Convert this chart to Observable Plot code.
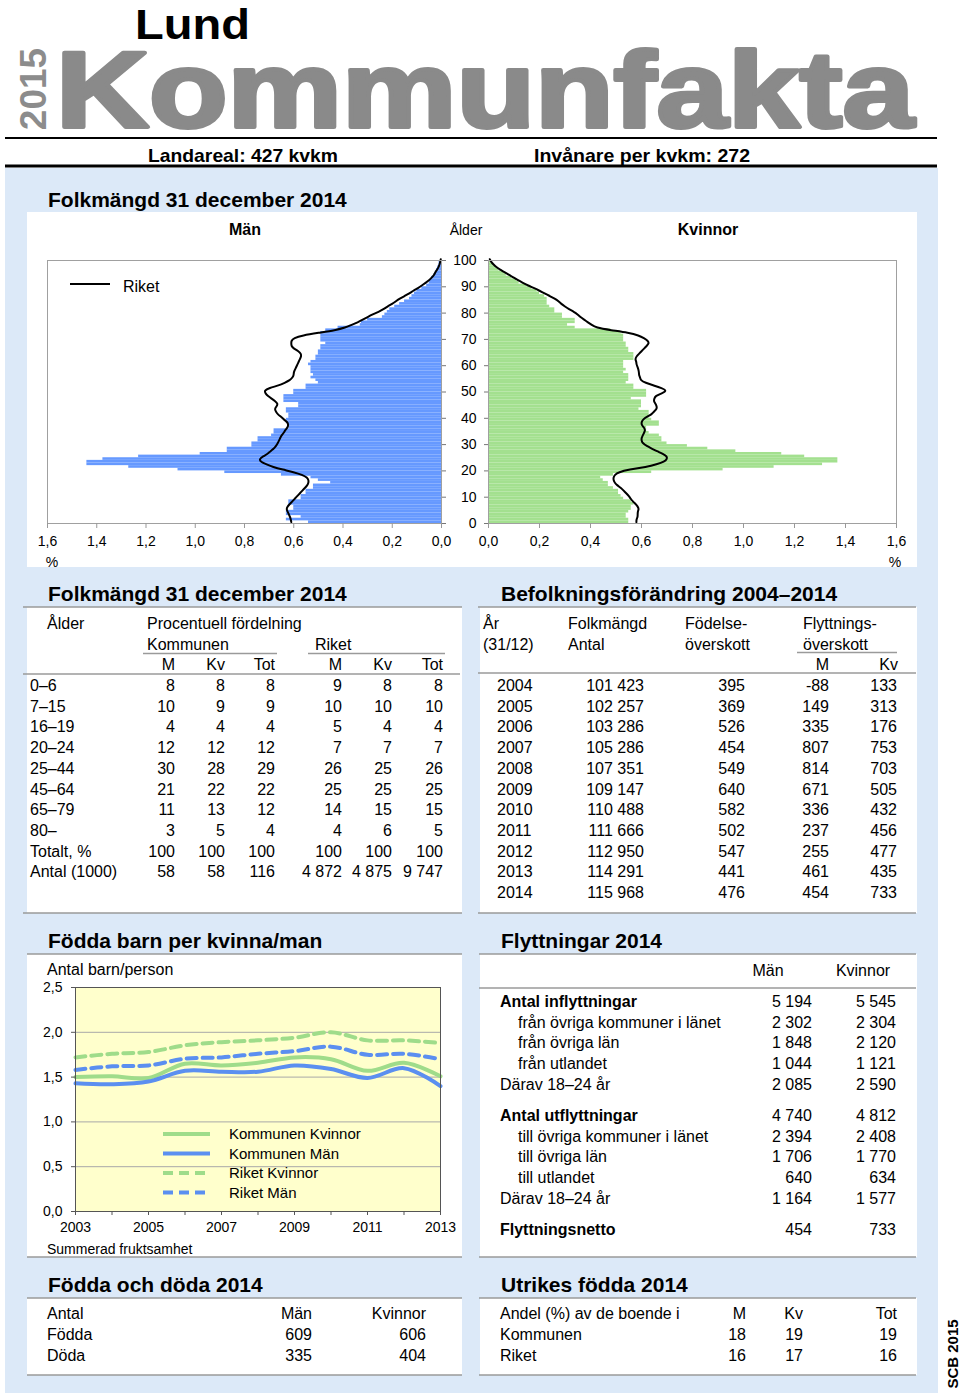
<!DOCTYPE html>
<html><head><meta charset="utf-8">
<script src="https://cdn.jsdelivr.net/npm/d3@7"></script>
<script src="https://cdn.jsdelivr.net/npm/@observablehq/plot@0.6"></script>
<style>
body{margin:0;background:#fff;}
#page{position:relative;width:960px;height:1396px;overflow:hidden;font-family:"Liberation Sans",Arial,sans-serif;}
svg.layer{position:absolute;left:0;top:0;}
.chart{position:absolute;}
</style></head><body><div id="page"></div>
<script>
// ---------- DATA ----------
const pctTicks = [0, 0.2, 0.4, 0.6, 0.8, 1.0, 1.2, 1.4, 1.6];
const ageTicks = [0, 10, 20, 30, 40, 50, 60, 70, 80, 90, 100];
// share (%) of population by single year of age 0..100
const menLund = [0.54,0.63,0.57,0.63,0.63,0.60,0.60,0.62,0.62,0.57,
 0.57,0.55,0.55,0.52,0.52,0.45,0.50,0.53,0.65,0.88,
 1.07,1.27,1.44,1.44,1.375,1.23,0.98,0.87,0.87,0.77,
 0.77,0.745,0.745,0.69,0.68,0.68,0.62,0.62,0.63,0.63,
 0.62,0.62,0.63,0.63,0.58,0.58,0.64,0.64,0.64,0.60,
 0.60,0.55,0.55,0.50,0.51,0.53,0.52,0.53,0.53,0.53,
 0.54,0.53,0.51,0.51,0.50,0.50,0.49,0.49,0.47,0.49,
 0.49,0.49,0.49,0.47,0.42,0.33,0.325,0.30,0.24,0.23,
 0.22,0.21,0.19,0.17,0.15,0.13,0.12,0.11,0.10,0.08,
 0.06,0.05,0.045,0.04,0.03,0.025,0.02,0.015,0.01,0.01,0.005];
const menRiket = [0.61,0.612,0.615,0.62,0.625,0.63,0.625,0.615,0.605,0.595,
 0.585,0.575,0.565,0.555,0.545,0.54,0.54,0.545,0.565,0.60,
 0.645,0.685,0.71,0.735,0.74,0.725,0.705,0.695,0.68,0.672,
 0.665,0.66,0.655,0.65,0.64,0.635,0.625,0.622,0.625,0.64,
 0.65,0.665,0.672,0.678,0.67,0.664,0.675,0.69,0.705,0.715,
 0.72,0.70,0.66,0.637,0.615,0.605,0.60,0.60,0.595,0.59,
 0.585,0.58,0.575,0.57,0.57,0.58,0.60,0.61,0.61,0.61,
 0.60,0.565,0.50,0.43,0.39,0.365,0.34,0.32,0.30,0.28,
 0.255,0.235,0.22,0.20,0.185,0.17,0.15,0.13,0.115,0.095,
 0.08,0.065,0.05,0.04,0.03,0.025,0.018,0.012,0.008,0.005,0.003];
const womenLund = [0.55,0.55,0.54,0.54,0.55,0.56,0.56,0.57,0.56,0.53,
 0.52,0.51,0.51,0.49,0.47,0.47,0.45,0.44,0.49,0.64,
 0.92,1.12,1.31,1.37,1.37,1.24,1.15,0.97,0.86,0.78,
 0.70,0.68,0.68,0.67,0.63,0.62,0.62,0.67,0.67,0.64,
 0.63,0.63,0.63,0.59,0.60,0.60,0.60,0.56,0.62,0.62,
 0.62,0.57,0.57,0.54,0.55,0.55,0.55,0.53,0.54,0.53,
 0.53,0.53,0.57,0.57,0.57,0.55,0.55,0.54,0.54,0.53,
 0.53,0.53,0.52,0.48,0.34,0.31,0.34,0.34,0.29,0.29,
 0.26,0.26,0.24,0.23,0.23,0.23,0.22,0.20,0.19,0.17,
 0.15,0.12,0.11,0.09,0.07,0.06,0.04,0.03,0.02,0.015,0.01];
const womenRiket = [0.58,0.58,0.585,0.585,0.585,0.59,0.585,0.576,0.565,0.557,
 0.55,0.54,0.53,0.52,0.505,0.495,0.49,0.49,0.495,0.51,
 0.55,0.62,0.66,0.69,0.70,0.70,0.685,0.66,0.64,0.62,
 0.605,0.60,0.60,0.605,0.61,0.615,0.61,0.60,0.60,0.605,
 0.62,0.64,0.648,0.66,0.66,0.655,0.648,0.65,0.655,0.68,
 0.70,0.68,0.648,0.615,0.596,0.595,0.59,0.59,0.588,0.585,
 0.58,0.58,0.575,0.58,0.59,0.60,0.61,0.62,0.63,0.625,
 0.61,0.59,0.55,0.48,0.42,0.405,0.39,0.375,0.36,0.35,
 0.335,0.315,0.30,0.285,0.275,0.26,0.24,0.22,0.20,0.18,
 0.155,0.135,0.115,0.10,0.08,0.065,0.045,0.03,0.02,0.01,0.005];

// Summerad fruktsamhet
const fYears = [2003,2004,2005,2006,2007,2008,2009,2010,2011,2012,2013];
const fTicksY = [0, 0.5, 1.0, 1.5, 2.0, 2.5];
const kommunKvinnor = [1.50,1.51,1.49,1.65,1.63,1.66,1.72,1.70,1.57,1.66,1.51];
const kommunMan     = [1.43,1.42,1.45,1.57,1.56,1.56,1.63,1.59,1.49,1.60,1.40];
const riketKvinnor  = [1.72,1.76,1.78,1.855,1.89,1.91,1.94,2.00,1.91,1.91,1.88];
const riketMan      = [1.58,1.62,1.63,1.705,1.72,1.76,1.79,1.84,1.75,1.76,1.70];
const fLegend = ["Kommunen Kvinnor","Kommunen Män","Riket Kvinnor","Riket Män"];

// Folkmängd table
const ageGroups = ["0–6","7–15","16–19","20–24","25–44","45–64","65–79","80–","Totalt, %","Antal (1000)"];
const kommunM   = ["8","10","4","12","30","21","11","3","100","58"];
const kommunKv  = ["8","9","4","12","28","22","13","5","100","58"];
const kommunTot = ["8","9","4","12","29","22","12","4","100","116"];
const riketM    = ["9","10","5","7","26","25","14","4","100","4 872"];
const riketKv   = ["8","10","4","7","25","25","15","6","100","4 875"];
const riketTot  = ["8","10","4","7","26","25","15","5","100","9 747"];

// Befolkningsförändring
const befYears = ["2004","2005","2006","2007","2008","2009","2010","2011","2012","2013","2014"];
const folkmangd = ["101 423","102 257","103 286","105 286","107 351","109 147","110 488","111 666","112 950","114 291","115 968"];
const fodelseOversk = ["395","369","526","454","549","640","582","502","547","441","476"];
const flyttOverM  = ["-88","149","335","807","814","671","336","237","255","461","454"];
const flyttOverKv = ["133","313","176","753","703","505","432","456","477","435","733"];

// Flyttningar 2014
const flyttLabels = ["Antal inflyttningar","från övriga kommuner i länet","från övriga län","från utlandet","Därav 18–24 år",
  "Antal utflyttningar","till övriga kommuner i länet","till övriga län","till utlandet","Därav 18–24 år","Flyttningsnetto"];
const flyttMan = ["5 194","2 302","1 848","1 044","2 085","4 740","2 394","1 706","640","1 164","454"];
const flyttKvinnor = ["5 545","2 304","2 120","1 121","2 590","4 812","2 408","1 770","634","1 577","733"];

// Födda och döda
const fdLabels = ["Födda","Döda"];
const fdMan = ["609","335"];
const fdKvinnor = ["606","404"];

// Utrikes födda
const utLabels = ["Kommunen","Riket"];
const utM = ["18","16"];
const utKv = ["19","17"];
const utTot = ["19","16"];

// ---------- DRAW ----------
const FONT = "Liberation Sans, Arial, sans-serif";
const page = d3.select("#page");
const bg = page.append("svg").attr("class","layer").attr("width",960).attr("height",1396)
  .style("font-family", FONT);

function txt(g, x, y, s, o = {}) {
  const t = g.append("text").attr("x", x).attr("y", y).text(s)
    .attr("font-size", o.size || 16)
    .attr("font-weight", o.bold ? "bold" : "normal")
    .attr("text-anchor", o.anchor || "start")
    .attr("fill", o.fill || "#000");
  if (o.len) t.attr("textLength", o.len).attr("lengthAdjust", "spacingAndGlyphs");
  if (o.stroke) t.attr("stroke", o.stroke).attr("stroke-width", o.sw || 1).attr("stroke-linejoin","round");
  return t;
}
function hline(g, x1, x2, y, color = "#9a9a9a", w = 1.5) {
  g.append("line").attr("x1", x1).attr("x2", x2).attr("y1", y).attr("y2", y)
    .attr("stroke", color).attr("stroke-width", w);
}
function rect(g, x, y, w, h, fill) {
  g.append("rect").attr("x", x).attr("y", y).attr("width", w).attr("height", h).attr("fill", fill);
}

// header
txt(bg, 135, 39, "Lund", {size: 43, bold: true, len: 115});
txt(bg, 0, 0, "2015", {size: 37, bold: true, fill: "#8c8c8c", anchor: "middle"})
  .attr("transform", "translate(46,89) rotate(-90)");
txt(bg, 56, 127, "Kommunfakta", {size: 108, bold: true, fill: "#8a8a8a", len: 858, stroke: "#8a8a8a", sw: 4});
hline(bg, 5, 937, 138, "#000", 2);
txt(bg, 148, 162, "Landareal: 427 kvkm", {size: 19, bold: true, len: 190});
txt(bg, 534, 162, "Invånare per kvkm: 272", {size: 19, bold: true, len: 216});
hline(bg, 5, 937, 166, "#000", 3);

// panels
rect(bg, 5, 168, 933, 1225, "#dce9f8");
rect(bg, 27, 212, 890, 355, "#fff");
rect(bg, 27, 607, 435, 306, "#fff");
rect(bg, 480, 607, 437, 306, "#fff");
rect(bg, 27, 954, 435, 303, "#fff");
rect(bg, 480, 954, 437, 303, "#fff");
rect(bg, 27, 1298, 435, 77, "#fff");
rect(bg, 480, 1298, 437, 77, "#fff");

// section titles
const T = {size: 21, bold: true};
txt(bg, 48, 207, "Folkmängd 31 december 2014", T);
txt(bg, 48, 601, "Folkmängd 31 december 2014", T);
txt(bg, 501, 601, "Befolkningsförändring 2004–2014", T);
txt(bg, 48, 948, "Födda barn per kvinna/man", T);
txt(bg, 501, 948, "Flyttningar 2014", T);
txt(bg, 48, 1292, "Födda och döda 2014", T);
txt(bg, 501, 1292, "Utrikes födda 2014", T);

// pyramid headings and legend
txt(bg, 245, 235, "Män", {size: 16, bold: true, anchor: "middle"});
txt(bg, 466, 235, "Ålder", {size: 14, anchor: "middle"});
txt(bg, 708, 235, "Kvinnor", {size: 16, bold: true, anchor: "middle"});
hline(bg, 70, 110, 284, "#000", 2);
txt(bg, 123, 292, "Riket", {size: 16});
txt(bg, 52, 567, "%", {size: 14, anchor: "middle"});
txt(bg, 895, 567, "%", {size: 14, anchor: "middle"});

// Folkmängd table
hline(bg, 23, 462, 607); hline(bg, 23, 460, 674); hline(bg, 23, 462, 913);
hline(bg, 143, 277, 653.5); hline(bg, 308, 445, 653.5);
txt(bg, 47, 629, "Ålder");
txt(bg, 147, 629, "Procentuell fördelning");
txt(bg, 147, 650, "Kommunen");
txt(bg, 315, 650, "Riket");
const colX = [175, 225, 275, 342, 392, 443];
["M","Kv","Tot","M","Kv","Tot"].forEach((h, j) => txt(bg, colX[j], 670, h, {anchor: "end"}));
const cols = [kommunM, kommunKv, kommunTot, riketM, riketKv, riketTot];
ageGroups.forEach((g, i) => {
  const y = 691 + i * 20.7;
  txt(bg, 30, y, g);
  cols.forEach((c, j) => txt(bg, colX[j], y, c[i], {anchor: "end"}));
});

// Befolkningsförändring table
hline(bg, 478, 916, 607); hline(bg, 478, 916, 673); hline(bg, 478, 916, 913);
hline(bg, 797, 897, 652.5);
txt(bg, 483, 629, "År"); txt(bg, 483, 650, "(31/12)");
txt(bg, 568, 629, "Folkmängd"); txt(bg, 568, 650, "Antal");
txt(bg, 685, 629, "Födelse-"); txt(bg, 685, 650, "överskott");
txt(bg, 803, 629, "Flyttnings-"); txt(bg, 803, 650, "överskott");
txt(bg, 829, 670, "M", {anchor: "end"}); txt(bg, 898, 670, "Kv", {anchor: "end"});
befYears.forEach((yr, i) => {
  const y = 691 + i * 20.7;
  txt(bg, 497, y, yr);
  txt(bg, 644, y, folkmangd[i], {anchor: "end"});
  txt(bg, 745, y, fodelseOversk[i], {anchor: "end"});
  txt(bg, 829, y, flyttOverM[i], {anchor: "end"});
  txt(bg, 897, y, flyttOverKv[i], {anchor: "end"});
});

// fertility chart texts
hline(bg, 27, 462, 954); hline(bg, 27, 462, 1257);
txt(bg, 47, 975, "Antal barn/person", {size: 16});
txt(bg, 47, 1254, "Summerad fruktsamhet", {size: 14});

// Flyttningar table
hline(bg, 479, 916, 954); hline(bg, 479, 916, 988); hline(bg, 479, 916, 1257);
txt(bg, 768, 976, "Män", {anchor: "middle"});
txt(bg, 863, 976, "Kvinnor", {anchor: "middle"});
let fy = 1007;
flyttLabels.forEach((lab, i) => {
  if (i === 5 || i === 10) fy += 10.5;
  const bold = lab.startsWith("Antal") || lab === "Flyttningsnetto";
  const indent = lab.startsWith("från") || lab.startsWith("till");
  txt(bg, indent ? 518 : 500, fy, lab, {bold});
  txt(bg, 812, fy, flyttMan[i], {anchor: "end"});
  txt(bg, 896, fy, flyttKvinnor[i], {anchor: "end"});
  fy += 20.7;
});

// Födda och döda
hline(bg, 27, 462, 1298); hline(bg, 27, 462, 1375);
txt(bg, 47, 1319, "Antal");
txt(bg, 312, 1319, "Män", {anchor: "end"});
txt(bg, 426, 1319, "Kvinnor", {anchor: "end"});
fdLabels.forEach((l, i) => {
  const y = 1340 + i * 20.7;
  txt(bg, 47, y, l);
  txt(bg, 312, y, fdMan[i], {anchor: "end"});
  txt(bg, 426, y, fdKvinnor[i], {anchor: "end"});
});

// Utrikes födda
hline(bg, 479, 916, 1298); hline(bg, 479, 916, 1375);
txt(bg, 500, 1319, "Andel (%) av de boende i");
txt(bg, 746, 1319, "M", {anchor: "end"});
txt(bg, 803, 1319, "Kv", {anchor: "end"});
txt(bg, 897, 1319, "Tot", {anchor: "end"});
utLabels.forEach((l, i) => {
  const y = 1340 + i * 20.7;
  txt(bg, 500, y, l);
  txt(bg, 746, y, utM[i], {anchor: "end"});
  txt(bg, 803, y, utKv[i], {anchor: "end"});
  txt(bg, 897, y, utTot[i], {anchor: "end"});
});

txt(bg, 0, 0, "SCB 2015", {size: 15, bold: true, anchor: "middle"})
  .attr("transform", "translate(958,1354) rotate(-90)");

// ---------- PLOT CHARTS ----------
const fmtC = d => d3.format(".1f")(d).replace(".", ",");
const baseStyle = {fontFamily: FONT, fontSize: "14px", background: "none", overflow: "visible", color: "#000"};
const BLUE = "#6699ff", GREEN = "#a3e08f";

function place(node, left, topPx) {
  const div = page.append("div").attr("class", "chart").style("left", left + "px").style("top", topPx + "px");
  div.node().appendChild(node);
}

const leftPyr = Plot.plot({
  width: 440, height: 337, marginLeft: 20, marginRight: 26, marginTop: 30, marginBottom: 44,
  style: baseStyle,
  x: {domain: [1.6, 0], axis: null},
  y: {domain: [0, 100], axis: null},
  marks: [
    Plot.rect(menLund, {x1: 0, x2: d => d, y1: (d, i) => i, y2: (d, i) => i + 1, fill: BLUE, clip: true}),
    Plot.line(menRiket, {x: d => d, y: (d, i) => i + 0.5, curve: "basis", stroke: "#000", strokeWidth: 2}),
    Plot.frame({stroke: "#a0a0a0"}),
    Plot.axisX({ticks: pctTicks, tickFormat: fmtC, tickSize: 5, tickPadding: 8, stroke: "#999", fill: "#000", label: null}),
    Plot.axisY({anchor: "right", ticks: ageTicks, tickSize: 4, tickFormat: () => "", stroke: "#777", label: null})
  ]
});
place(leftPyr, 27, 230);

const rightPyr = Plot.plot({
  width: 476, height: 337, marginLeft: 47, marginRight: 21, marginTop: 30, marginBottom: 44,
  style: baseStyle,
  x: {domain: [0, 1.6], axis: null},
  y: {domain: [0, 100], axis: null},
  marks: [
    Plot.rect(womenLund, {x1: 0, x2: d => d, y1: (d, i) => i, y2: (d, i) => i + 1, fill: GREEN, clip: true}),
    Plot.line(womenRiket, {x: d => d, y: (d, i) => i + 0.5, curve: "basis", stroke: "#000", strokeWidth: 2}),
    Plot.frame({stroke: "#a0a0a0"}),
    Plot.axisX({ticks: pctTicks, tickFormat: fmtC, tickSize: 5, tickPadding: 8, stroke: "#999", fill: "#000", label: null}),
    Plot.axisY({anchor: "left", ticks: ageTicks, tickSize: 4, tickPadding: 8, stroke: "#777", fill: "#000", label: null})
  ]
});
place(rightPyr, 441, 230);

const FG = "#9fdc8a", FB = "#5b8ff0";
const fert = Plot.plot({
  width: 435, height: 303, marginLeft: 48, marginRight: 22, marginTop: 33, marginBottom: 46,
  style: baseStyle,
  x: {domain: [2003, 2013], axis: null},
  y: {domain: [0, 2.5], axis: null},
  marks: [
    Plot.frame({fill: "#ffffcc"}),
    Plot.gridY(fTicksY.filter(v => v > 0 && v < 2.5), {stroke: "#a8a8a8", strokeOpacity: 1}),
    Plot.line(riketKvinnor, {x: (d, i) => fYears[i], y: d => d, stroke: FG, strokeWidth: 4, strokeDasharray: "10,6", curve: "catmull-rom"}),
    Plot.line(riketMan, {x: (d, i) => fYears[i], y: d => d, stroke: FB, strokeWidth: 4, strokeDasharray: "10,6", curve: "catmull-rom"}),
    Plot.line(kommunKvinnor, {x: (d, i) => fYears[i], y: d => d, stroke: FG, strokeWidth: 4, curve: "catmull-rom"}),
    Plot.line(kommunMan, {x: (d, i) => fYears[i], y: d => d, stroke: FB, strokeWidth: 4, curve: "catmull-rom"}),
    Plot.frame({stroke: "#555"}),
    Plot.axisX({ticks: fYears, tickFormat: d => (d % 2 === 1 ? String(d) : ""), tickSize: 4, tickPadding: 7, stroke: "#555", fill: "#000", label: null}),
    Plot.axisY({ticks: fTicksY, tickFormat: fmtC, tickSize: 4, tickPadding: 9, stroke: "#555", fill: "#000", label: null})
  ]
});
place(fert, 27, 954);

// legend overlay (inside the fertility chart)
const overlay = page.append("svg").attr("class", "layer").attr("width", 960).attr("height", 1396)
  .style("font-family", FONT).style("pointer-events", "none");
const legStyles = [[FG, null], [FB, null], [FG, "10,6"], [FB, "10,6"]];
fLegend.forEach((name, i) => {
  const y = 1134 + i * 19.5;
  const ln = overlay.append("line").attr("x1", 163).attr("x2", 210).attr("y1", y).attr("y2", y)
    .attr("stroke", legStyles[i][0]).attr("stroke-width", 4);
  if (legStyles[i][1]) ln.attr("stroke-dasharray", legStyles[i][1]);
  txt(overlay, 229, y + 5, name, {size: 15});
});
</script></body></html>
